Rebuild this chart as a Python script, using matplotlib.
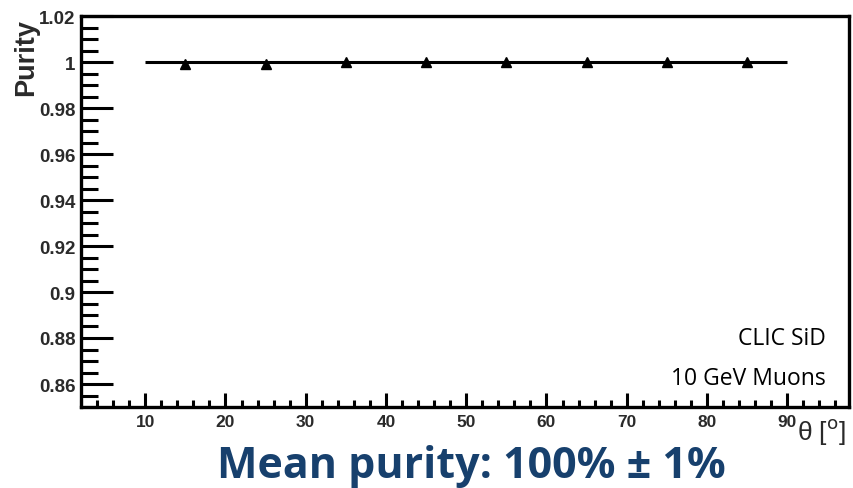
import numpy as np
import matplotlib
matplotlib.use('Agg')
import matplotlib.pyplot as plt
from matplotlib.ticker import MultipleLocator

# data: purity vs polar angle, 10 GeV muons
bin_edges = [10, 20, 30, 40, 50, 60, 70, 80, 90]
bin_centers = [15, 25, 35, 45, 55, 65, 75, 85]
purity = [0.9990, 0.9992, 1.0, 1.0, 1.0, 1.0, 1.0, 1.0]
purity_err = [0.0008, 0.0004, 0.0, 0.0, 0.0, 0.0, 0.0, 0.0]
mean_level = [1.0, 1.0, 1.0, 1.0, 1.0, 1.0, 1.0, 1.0]

x_major = [10, 20, 30, 40, 50, 60, 70, 80, 90]
y_major = [0.86, 0.88, 0.9, 0.92, 0.94, 0.96, 0.98, 1.0, 1.02]
y_labels = ['0.86', '0.88', '0.9', '0.92', '0.94', '0.96', '0.98', '1', '1.02']

W, H = 854, 489
fig = plt.figure(figsize=(W / 100, H / 100), dpi=100)
ax = fig.add_axes([81 / W, 1 - 408 / H, (849 - 81) / W, (408 - 17) / H])

tick_col = '#2a2a2a'

# histogram line and markers
ax.stairs(mean_level, bin_edges, color='black', lw=2.2, baseline=None)
ax.errorbar(bin_centers, purity, yerr=purity_err, fmt='^', color='black',
            ms=7, elinewidth=2, capsize=0, zorder=3)

ax.set_xlim(2, 97.7)
ax.set_ylim(0.85, 1.02)

ax.set_xticks(x_major)
ax.xaxis.set_minor_locator(MultipleLocator(2))
ax.set_yticks(y_major)
ax.set_yticklabels(y_labels)
ax.yaxis.set_minor_locator(MultipleLocator(0.005))

ax.tick_params(axis='y', which='major', direction='in', length=23, width=2.2,
               labelsize=13.5, pad=4, right=False, labelcolor=tick_col)
ax.tick_params(axis='y', which='minor', direction='in', length=12, width=2.2,
               right=False)
ax.tick_params(axis='x', which='major', direction='in', length=10, width=2.2,
               labelsize=12.5, pad=5, top=False, labelcolor=tick_col)
ax.tick_params(axis='x', which='minor', direction='in', length=5, width=2.2,
               top=False)
for lab in ax.get_xticklabels() + ax.get_yticklabels():
    lab.set_family('Liberation Sans')
    lab.set_fontweight('bold')

for s in ax.spines.values():
    s.set_linewidth(2.4)

# axis titles
fig.text(26 / W, 1 - 19 / H, 'Purity', rotation=90, ha='center', va='top',
         family='Liberation Sans', fontweight='bold', fontsize=19.5, color=tick_col)
fig.text(846 / W, 1 - 432 / H, '\u03b8 [$^{\\rm o}$]', ha='right', va='center',
         family='Liberation Sans', fontsize=19, color=tick_col)

# annotations
fig.text(826 / W, 1 - 339 / H, 'CLIC SiD', ha='right', va='center',
         family='Open Sans', fontsize=16.5, color='black')
fig.text(826 / W, 1 - 379 / H, '10 GeV Muons', ha='right', va='center',
         family='Open Sans', fontsize=16.5, color='black')

fig.text(471 / W, 1 - 467 / H, 'Mean purity: 100% \u00b1 1%', ha='center',
         va='center', family='Open Sans', fontweight='bold', fontsize=31,
         color='#17406D')

fig.savefig('out.png', dpi=100)
